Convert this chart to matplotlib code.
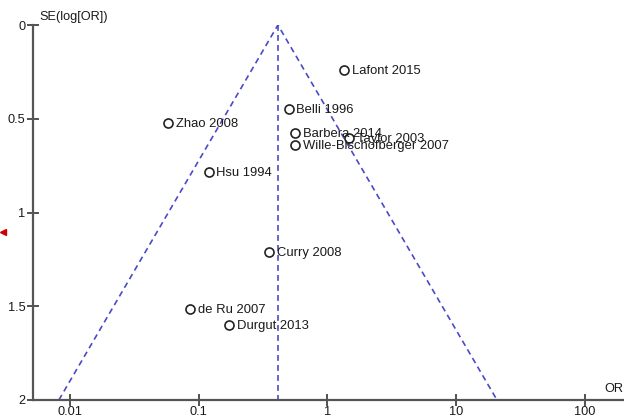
import numpy as np
import matplotlib
matplotlib.use("Agg")
import matplotlib.pyplot as plt
from matplotlib.lines import Line2D

plt.rcParams['font.family'] = ['Liberation Sans', 'DejaVu Sans']

studies = ["Lafont 2015", "Belli 1996", "Zhao 2008", "Barbera 2014", "Taylor 2003",
           "Wille-Bischofberger 2007", "Hsu 1994", "Curry 2008", "de Ru 2007", "Durgut 2013"]
odds_ratio = [1.35, 0.50, 0.058, 0.56, 1.47, 0.56, 0.12, 0.352, 0.086, 0.172]
se_log_or = [0.24, 0.448, 0.523, 0.576, 0.60, 0.64, 0.784, 1.21, 1.515, 1.60]
pooled_or = 0.413
x_ticks = [0.01, 0.1, 1, 10, 100]
x_tick_labels = ["0.01", "0.1", "1", "10", "100"]
y_ticks = [0, 0.5, 1, 1.5, 2]
y_tick_labels = ["0", "0.5", "1", "1.5", "2"]

fig = plt.figure(figsize=(6.24, 4.2), dpi=100)
ax = fig.add_axes([33/624, 20/420, 591/624, 375/420])

ax.set_xscale('log')
ax.set_xlim(0.00516, 202)
ax.set_ylim(2, 0)

line_col = '#4a4ac8'
se_max = 2.0
ax.plot([pooled_or * np.exp(-1.96 * se_max), pooled_or, pooled_or * np.exp(1.96 * se_max)],
        [se_max, 0, se_max], color=line_col, ls=(0, (3.5, 2.5)), lw=1.2, zorder=1)
ax.plot([pooled_or, pooled_or], [0, se_max], color=line_col, ls=(0, (3.5, 2.5)), lw=1.2, zorder=1)

ax.plot(odds_ratio, se_log_or, 'o', mfc='white', mec='#222222', mew=1.2, ms=6.5, ls='none', zorder=3)
for name, x, y in zip(studies, odds_ratio, se_log_or):
    ax.annotate(name, (x, y), xytext=(5.5, -1), textcoords='offset points',
                ha='left', va='center', fontsize=9.4, color='#1a1a1a', zorder=4)

for s in ['top', 'right']:
    ax.spines[s].set_visible(False)
for s in ['left', 'bottom']:
    ax.spines[s].set_color('#555555')
    ax.spines[s].set_linewidth(1.6)

ax.set_xticks(x_ticks)
ax.set_xticklabels(x_tick_labels)
ax.xaxis.set_minor_locator(matplotlib.ticker.NullLocator())
ax.set_yticks(y_ticks)
ax.set_yticklabels(y_tick_labels)
ax.tick_params(axis='both', direction='inout', length=9, width=1.3, color='#444444',
               labelsize=9.2, labelcolor='#1a1a1a')
ax.tick_params(axis='x', pad=0)
ax.tick_params(axis='y', pad=1)

fig.text(39/624, 1 - 17/420, "SE(log[OR])", fontsize=9.2, color='#1a1a1a', ha='left', va='center')
fig.text(604/624, 1 - 389/420, "OR", fontsize=9.2, color='#1a1a1a', ha='left', va='center')

# small red marker at left edge
fig.add_artist(Line2D([3/624], [1 - 232/420], marker='<', color='#cc0000', ms=5,
                      transform=fig.transFigure))

fig.savefig("out.png", dpi=100, facecolor='white')
